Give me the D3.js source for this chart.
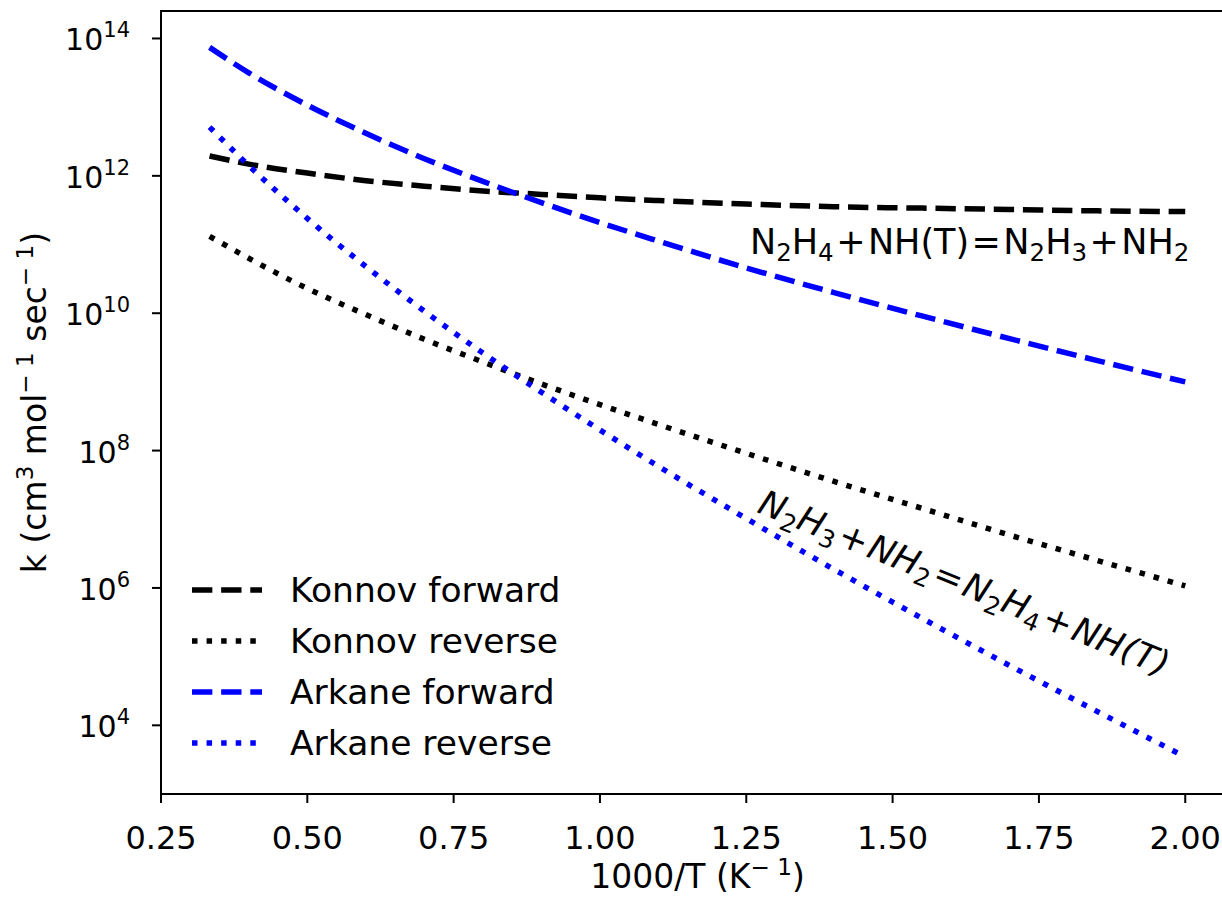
<!DOCTYPE html>
<html>
<head>
<meta charset="utf-8">
<script src="https://cdn.jsdelivr.net/npm/d3@7"></script>
<style>
  body { margin: 0; background: #fff; }
  svg { display: block; font-family: "DejaVu Sans", sans-serif; }
</style>
</head>
<body>
<svg id="chart" width="1222" height="898"></svg>
<script>
// 1000/T values (K^-1) and log10(k)
const invT = [0.333, 0.4, 0.5, 0.6, 0.7, 0.8, 0.9, 1.0, 1.1, 1.25, 1.4, 1.55, 1.7, 1.85, 2.0];
const konnovFwd = [12.29, 12.17, 12.04, 11.93, 11.85, 11.78, 11.73, 11.68, 11.64, 11.59, 11.55, 11.53, 11.51, 11.49, 11.48];
const konnovRev = [11.12, 10.80, 10.36, 9.98, 9.62, 9.29, 8.97, 8.67, 8.38, 7.96, 7.55, 7.16, 6.77, 6.40, 6.03];
const arkaneFwd = [13.87, 13.50, 13.03, 12.62, 12.25, 11.92, 11.61, 11.32, 11.05, 10.66, 10.30, 9.96, 9.63, 9.31, 9.00];
const arkaneRev = [12.71, 12.15, 11.38, 10.68, 10.03, 9.42, 8.85, 8.30, 7.77, 7.01, 6.27, 5.56, 4.87, 4.20, 3.54];

const xTicks = [0.25, 0.5, 0.75, 1.0, 1.25, 1.5, 1.75, 2.0];
const yTickExp = [4, 6, 8, 10, 12, 14];

const series = [
  { name: 'Konnov forward', vals: konnovFwd, color: '#000', dash: 'dash' },
  { name: 'Konnov reverse', vals: konnovRev, color: '#000', dash: 'dot' },
  { name: 'Arkane forward', vals: arkaneFwd, color: '#0000ff', dash: 'dash' },
  { name: 'Arkane reverse', vals: arkaneRev, color: '#0000ff', dash: 'dot' }
];

const lw = 5.5;
const dashes = { dash: `${3.7 * lw},${1.6 * lw}`, dot: `${1 * lw},${1.65 * lw}` };

const svg = d3.select('#chart');
const L = 161, T = 11, R = 1234, B = 794;

const x = d3.scaleLinear().domain([0.25, 2.0833]).range([L, R]);
const y = d3.scaleLog().domain([Math.pow(10, 3.0), Math.pow(10, 14.4)]).range([B, T]);

svg.append('rect').attr('width', 1222).attr('height', 898).attr('fill', '#fff');

// curves
const line = d3.line()
  .x(d => x(d[0]))
  .y(d => y(Math.pow(10, d[1])))
  .curve(d3.curveMonotoneX);

svg.selectAll('path.series')
  .data(series)
  .join('path')
  .attr('class', 'series')
  .attr('d', s => line(invT.map((t, i) => [t, s.vals[i]])))
  .attr('fill', 'none')
  .attr('stroke', s => s.color)
  .attr('stroke-width', lw)
  .attr('stroke-dasharray', s => dashes[s.dash]);

// spines
svg.append('rect')
  .attr('x', L).attr('y', T).attr('width', R - L).attr('height', B - T)
  .attr('fill', 'none').attr('stroke', '#000').attr('stroke-width', 2);

// x axis
const xAxis = svg.append('g');
xAxis.selectAll('line').data(xTicks).join('line')
  .attr('x1', d => x(d)).attr('x2', d => x(d))
  .attr('y1', B).attr('y2', B + 9)
  .attr('stroke', '#000').attr('stroke-width', 2);
xAxis.selectAll('text').data(xTicks).join('text')
  .attr('x', d => x(d)).attr('y', 849)
  .attr('text-anchor', 'middle')
  .attr('font-size', 32)
  .text(d => d3.format('.2f')(d));

// y axis
const yAxis = svg.append('g');
yAxis.selectAll('line').data(yTickExp).join('line')
  .attr('x1', L - 9).attr('x2', L)
  .attr('y1', d => y(Math.pow(10, d))).attr('y2', d => y(Math.pow(10, d)))
  .attr('stroke', '#000').attr('stroke-width', 2);
const yl = yAxis.selectAll('text').data(yTickExp).join('text')
  .attr('x', 130).attr('y', d => y(Math.pow(10, d)) + 12)
  .attr('text-anchor', 'end')
  .attr('font-size', 30);
yl.append('tspan').text('10');
yl.append('tspan').attr('font-size', 21).attr('dy', -13).text(d => d);

// mathtext-like text: tokens are plain strings, {sub}, {sup} or {op}
function mtext(t, parts, size, italic, gap) {
  let dx = 0, dy = 0;
  parts.forEach(p => {
    const s = t.append('tspan');
    if (typeof p === 'string') {
      s.text(p);
      if (italic) s.attr('font-style', 'italic');
      s.attr('dy', dy).attr('dx', dx); dx = 0; dy = 0;
    } else if (p.sub !== undefined) {
      s.text(p.sub).attr('font-size', size * 0.7).attr('dy', size * 0.2).attr('dx', dx);
      dx = 0; dy = -size * 0.2;
    } else if (p.sup !== undefined) {
      s.text(p.sup).attr('font-size', size * 0.7).attr('dy', -size * 0.4).attr('dx', dx);
      dx = 0; dy = size * 0.4;
    } else if (p.op !== undefined) {
      s.text(p.op).attr('dx', dx + size * gap).attr('dy', dy);
      dx = size * gap; dy = 0;
    }
  });
  return t;
}

// axis labels
const xlab = svg.append('text')
  .attr('x', (L + R) / 2).attr('y', 888)
  .attr('text-anchor', 'middle').attr('font-size', 33);
mtext(xlab, ['1000/T (K', { sup: '\u2212 1' }, ')'], 33, false, 0);

const ylab = svg.append('text')
  .attr('transform', `translate(46, ${(T + B) / 2}) rotate(-90)`)
  .attr('text-anchor', 'middle').attr('font-size', 33);
mtext(ylab, ['k (cm', { sup: '3' }, ' mol', { sup: '\u2212 1' }, ' sec', { sup: '\u2212 1' }, ')'], 33, false, 0);

// legend
const leg = svg.append('g');
const rowY = [590, 641, 692, 743];
series.forEach((s, i) => {
  leg.append('line')
    .attr('x1', 192).attr('x2', 262)
    .attr('y1', rowY[i]).attr('y2', rowY[i])
    .attr('stroke', s.color).attr('stroke-width', lw)
    .attr('stroke-dasharray', dashes[s.dash]);
  leg.append('text')
    .attr('x', 290).attr('y', rowY[i] + 12)
    .attr('font-size', 34.5)
    .text(s.name);
});

// reaction annotations
const fwdLabel = ['N', { sub: 2 }, 'H', { sub: 4 }, { op: '+' }, 'NH(T)', { op: '=' }, 'N', { sub: 2 }, 'H', { sub: 3 }, { op: '+' }, 'NH', { sub: 2 }];
const revLabel = ['N', { sub: 2 }, 'H', { sub: 3 }, { op: '+' }, 'NH', { sub: 2 }, { op: '=' }, 'N', { sub: 2 }, 'H', { sub: 4 }, { op: '+' }, 'NH(T)'];

mtext(svg.append('text').attr('font-size', 35)
  .attr('transform', 'translate(750, 254)'), fwdLabel, 35, false, 0.07);

mtext(svg.append('text').attr('font-size', 35)
  .attr('transform', 'translate(756, 512) rotate(22)'), revLabel, 35, true, 0.07);
</script>
</body>
</html>
